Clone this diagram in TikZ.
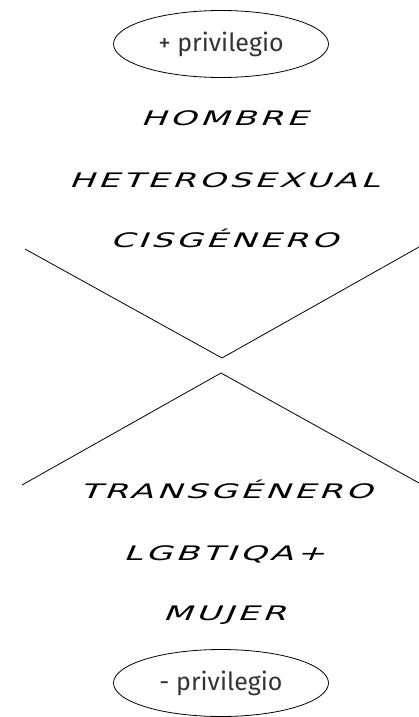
\documentclass[tikz,border=0pt]{standalone}
\usepackage{fontspec}
\usepackage{graphicx}
\setmainfont{Fira Sans}
\newfontfamily\techfont[FakeSlant=0.25,LetterSpace=10]{DejaVu Sans}
\newcommand{\widetag}[1]{\scalebox{1.7}[1]{#1}}
\usetikzlibrary{positioning,shapes.geometric}

\begin{document}
\begin{tikzpicture}[x=1pt,y=1pt,font=\fontsize{25pt}{27pt}\selectfont,
    priv/.style={draw,ellipse,line width=0.8pt,minimum width=215pt,minimum height=67pt,inner sep=0pt,text=black!80},
    tag/.style={font=\techfont\fontsize{20pt}{22pt}\selectfont,inner sep=0pt,anchor=base},
    cross/.style={line width=0.8pt}]
    \useasboundingbox (0,0) rectangle (419,-717);
    \node[priv] (top) at (221,-44) {+ privilegio};
    \node[tag] (hom) at (224,-125) {\widetag{HOMBRE}};
    \node[tag] (het) at (224,-187) {\widetag{HETEROSEXUAL}};
    \node[tag] (cis) at (224,-247) {\widetag{CISGÉNERO}};
    \node[tag] (tra) at (226,-498) {\widetag{TRANSGÉNERO}};
    \node[tag] (lgb) at (224,-560) {\widetag{LGBTIQA+}};
    \node[tag] (muj) at (224,-620) {\widetag{MUJER}};
    \node[priv] (bot) at (221,-683) {- privilegio};
    % the two wedges
    \draw[cross] (25,-249) -- (222,-358) -- (419,-247);
    \draw[cross] (22,-485) -- (221,-373) -- (419,-483);
\end{tikzpicture}
\end{document}
